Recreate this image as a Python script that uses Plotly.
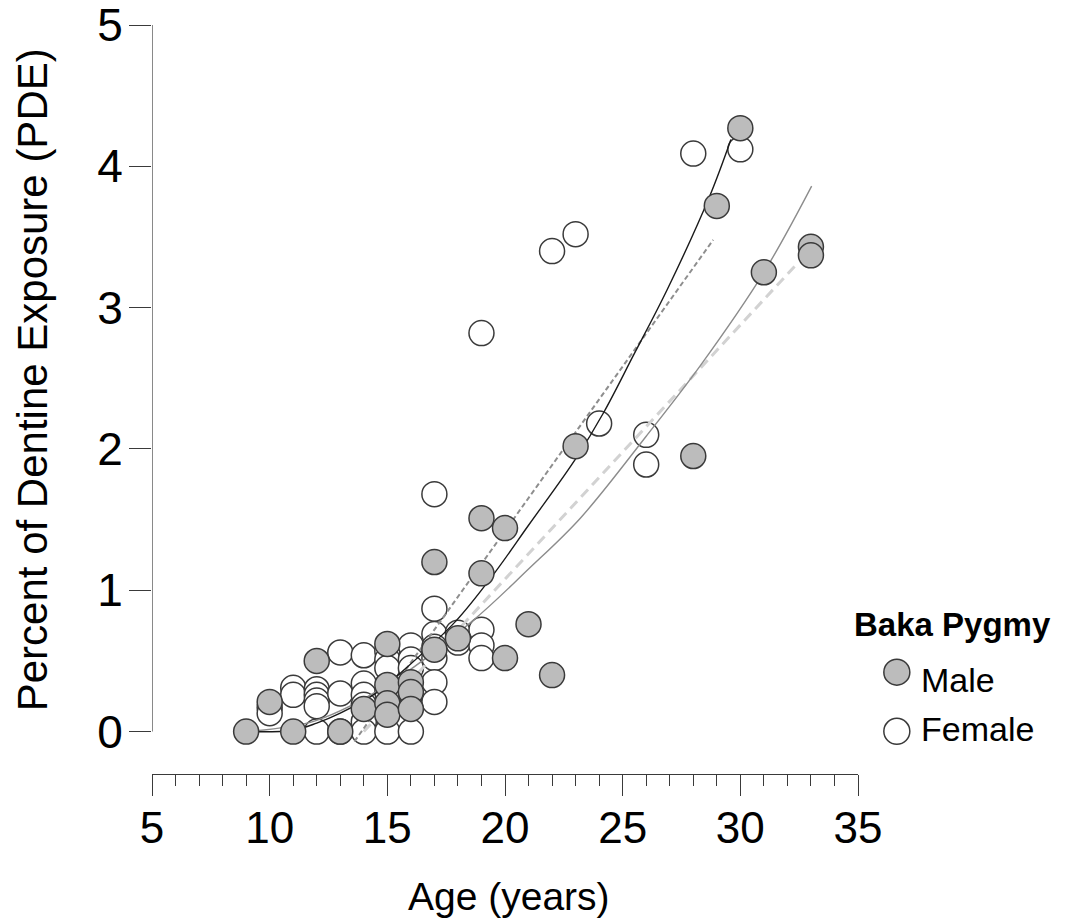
import plotly.graph_objects as go

# Observed dentine exposure, Baka Pygmy sample
male_age = [9, 10, 11, 12, 13, 14, 15, 15, 15, 15, 16, 16, 16, 17, 17, 18,
            19, 19, 20, 20, 21, 22, 23, 28, 29, 30, 31, 33, 33]
male_pde = [0.0, 0.21, 0.0, 0.50, 0.0, 0.16, 0.62, 0.33, 0.20, 0.12, 0.35, 0.28, 0.16,
            1.20, 0.58, 0.66, 1.51, 1.12, 1.44, 0.52, 0.76, 0.40, 2.02, 1.95, 3.72,
            4.27, 3.25, 3.43, 3.37]

female_age = [10, 10, 11, 11, 12, 12, 12, 12, 12, 13, 13, 13, 14, 14, 14, 14, 14, 14,
              15, 15, 15, 15, 15, 16, 16, 16, 16, 16, 17, 17, 17, 17, 17, 17, 17,
              18, 18, 19, 19, 19, 19, 22, 23, 24, 26, 26, 28, 30]
female_pde = [0.17, 0.13, 0.31, 0.26, 0.30, 0.26, 0.22, 0.18, 0.0, 0.56, 0.27, 0.0,
              0.54, 0.34, 0.26, 0.19, 0.07, 0.0, 0.57, 0.51, 0.45, 0.28, 0.0,
              0.61, 0.51, 0.45, 0.27, 0.0, 1.68, 0.87, 0.69, 0.60, 0.52, 0.35, 0.21,
              0.70, 0.63, 2.82, 0.72, 0.61, 0.52, 3.40, 3.52, 2.18, 2.10, 1.89, 4.09, 4.12]

# Fitted trend curves (knots along each curve)
fit_dark_age = [9, 11, 12, 13, 14.5, 15.8, 17.9, 19.5, 21, 23.0, 24.2, 25.45, 26.9, 28.7, 29.6]
fit_dark_pde = [0.0, 0.01, 0.06, 0.13, 0.27, 0.45, 0.78, 1.11, 1.46, 1.93, 2.26, 2.66, 3.13, 3.79, 4.19]

fit_grey_age = [9, 12, 15, 18.6, 21, 23.2, 26, 28.3, 31, 33.03]
fit_grey_pde = [0.0, 0.08, 0.33, 0.78, 1.15, 1.51, 2.09, 2.59, 3.25, 3.86]

lin_dark_age = [13.6, 28.85]
lin_dark_pde = [-0.07, 3.48]

lin_light_age = [14.0, 32.35]
lin_light_pde = [0.0, 3.30]

x_ticks = [5, 10, 15, 20, 25, 30, 35]
y_ticks = [0, 1, 2, 3, 4, 5]

FONT = "Liberation Sans, Arial, sans-serif"
MALE_FILL = "#bcbcbc"
EDGE = "#3a3a3a"

fig = go.Figure()

fig.add_trace(go.Scatter(
    x=female_age, y=female_pde, mode="markers", name="Female",
    marker=dict(size=25, color="white", line=dict(color=EDGE, width=1.5)),
    cliponaxis=False, showlegend=False))

fig.add_trace(go.Scatter(
    x=lin_light_age, y=lin_light_pde, mode="lines",
    line=dict(color="#d2d2d2", width=3, dash="10px,6px"), showlegend=False))
fig.add_trace(go.Scatter(
    x=lin_dark_age, y=lin_dark_pde, mode="lines",
    line=dict(color="#8e8e8e", width=2, dash="5px,3px"), showlegend=False))
fig.add_trace(go.Scatter(
    x=fit_grey_age, y=fit_grey_pde, mode="lines",
    line=dict(color="#8c8c8c", width=1.4, shape="spline"), showlegend=False))
fig.add_trace(go.Scatter(
    x=fit_dark_age, y=fit_dark_pde, mode="lines",
    line=dict(color="#1a1a1a", width=1.4, shape="spline"), showlegend=False))

fig.add_trace(go.Scatter(
    x=male_age, y=male_pde, mode="markers", name="Male",
    marker=dict(size=25, color=MALE_FILL, line=dict(color=EDGE, width=1.5)),
    cliponaxis=False, showlegend=False))

# y axis spine spans only the data range 0..5
shapes = [dict(type="line", xref="x", yref="y", x0=5, x1=5, y0=0, y1=5,
               line=dict(color=EDGE, width=1.2))]

# legend glyphs
for yy, fill in [(0.136, MALE_FILL), (0.057, "white")]:
    shapes.append(dict(type="circle", xref="paper", yref="paper",
                       xsizemode="pixel", ysizemode="pixel",
                       xanchor=1.055, yanchor=yy, x0=-13, x1=13, y0=-13, y1=13,
                       fillcolor=fill, line=dict(color=EDGE, width=1.5)))

annotations = [
    dict(text="<b>Baka Pygmy</b>", xref="paper", yref="paper", x=0.992, y=0.199,
         xanchor="left", yanchor="middle", showarrow=False,
         font=dict(family=FONT, size=33, color="black")),
    dict(text="Male", xref="paper", yref="paper", x=1.086, y=0.126,
         xanchor="left", yanchor="middle", showarrow=False,
         font=dict(family=FONT, size=34, color="black")),
    dict(text="Female", xref="paper", yref="paper", x=1.086, y=0.060,
         xanchor="left", yanchor="middle", showarrow=False,
         font=dict(family=FONT, size=34, color="black")),
    dict(text="Percent of Dentine Exposure (PDE)", xref="paper", yref="paper",
         x=-0.17, y=0.527, xanchor="center", yanchor="middle", textangle=-90,
         showarrow=False, font=dict(family=FONT, size=42, color="black")),
    dict(text="Age (years)", xref="paper", yref="paper", x=0.505, y=-0.163,
         xanchor="center", yanchor="middle", showarrow=False,
         font=dict(family=FONT, size=39, color="black")),
]

fig.update_layout(
    width=1076, height=924,
    margin=dict(l=152, r=218, t=25, b=150),
    paper_bgcolor="white", plot_bgcolor="white",
    showlegend=False,
    font=dict(family=FONT, color="black"),
    shapes=shapes, annotations=annotations,
    xaxis=dict(range=[5, 35], tickvals=x_ticks, ticks="outside", ticklen=21,
               tickwidth=1.2, tickcolor=EDGE, showline=True, linecolor=EDGE,
               linewidth=1.2, showgrid=False, zeroline=False, automargin=False,
               tickfont=dict(family=FONT, size=44, color="black"),
               ticklabelstandoff=-6, ticklabeloverflow="allow",
               minor=dict(dtick=1, ticks="outside", ticklen=11, tickcolor=EDGE,
                          tickwidth=1.2, showgrid=False)),
    yaxis=dict(range=[-0.3, 5], tickvals=y_ticks, ticks="outside", ticklen=22,
               tickwidth=1.2, tickcolor=EDGE, showline=False, showgrid=False,
               zeroline=False, automargin=False,
               tickfont=dict(family=FONT, size=46, color="black"),
               ticklabelstandoff=-3, ticklabeloverflow="allow"),
)

fig.write_html("out.html")
